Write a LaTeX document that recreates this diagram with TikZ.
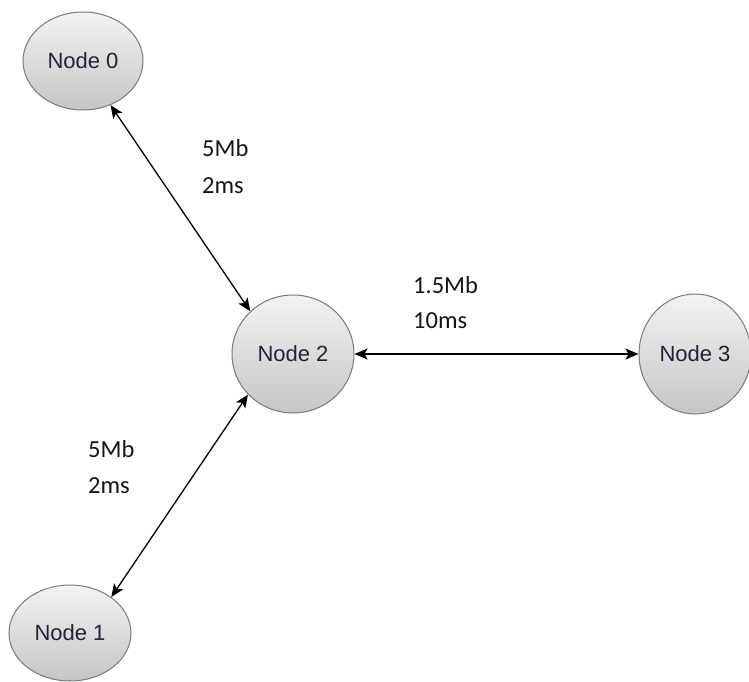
\documentclass[tikz,border=0pt]{standalone}
\usepackage{fontspec}
\setmainfont{Carlito}
\newfontfamily\nodefont{Liberation Sans}
\usetikzlibrary{shapes.geometric,arrows.meta}
\definecolor{nodeborder}{HTML}{7A7A7A}
\definecolor{nodetop}{HTML}{F2F2F2}
\definecolor{nodebottom}{HTML}{C6C6C6}
\definecolor{nodetext}{HTML}{22223A}
\definecolor{labeltext}{HTML}{151515}
\tikzset{
  netnode/.style={ellipse, draw=nodeborder, line width=1pt, inner sep=0pt,
    top color=nodetop, bottom color=nodebottom,
    font=\nodefont\fontsize{22}{25}\selectfont, text=nodetext},
  link/.style={line width=1.3pt, black,
    {Stealth[length=13pt,width=11pt,inset=3pt]}-{Stealth[length=13pt,width=11pt,inset=3pt]}},
  linklabel/.style={anchor=base west, inner sep=0pt, text=labeltext,
    font=\fontsize{24.5}{30}\selectfont}
}
\begin{document}
\begin{tikzpicture}[x=1pt,y=1pt]
\useasboundingbox (0,0) rectangle (749,-682);

% hosts
\node[netnode, minimum width=120pt, minimum height=98pt]  (n0) at (83,-61)  {Node 0};
\node[netnode, minimum width=122pt, minimum height=96pt]  (n1) at (70,-633) {Node 1};
\node[netnode, minimum width=122pt, minimum height=118pt] (n2) at (293,-354) {Node 2};
\node[netnode, minimum width=112pt, minimum height=120pt] (n3) at (695,-354) {Node 3};

% duplex links
\draw[link] (n0.302) -- (n2.135);
\draw[link] (n2.222) -- (n1.41);
\draw[link] (n2.east) -- (n3.west);

% link bandwidth and delay
\node[linklabel] (b02) at (202,-157) {5Mb};
\node[linklabel] (d02) at (202,-193) {2ms};
\node[linklabel] (b23) at (413,-293) {1.5Mb};
\node[linklabel] (d23) at (413,-328) {10ms};
\node[linklabel] (b12) at (88,-457) {5Mb};
\node[linklabel] (d12) at (88,-493) {2ms};
\end{tikzpicture}
\end{document}
